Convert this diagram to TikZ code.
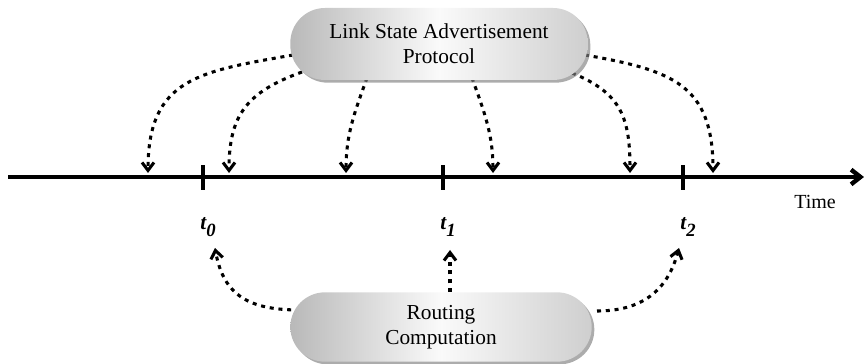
\documentclass[tikz,border=0pt]{standalone}
\usepackage{fontspec}
\setmainfont{Liberation Serif}
\usetikzlibrary{arrows.meta, positioning, calc, shadows, backgrounds}

\newcommand{\tsub}[1]{\raisebox{-0.65ex}{\fontsize{14}{14}\selectfont #1}}

\begin{document}
\begin{tikzpicture}[x=0.75pt, y=0.75pt,
  bubble/.style={rounded corners=26pt, minimum width=223pt, minimum height=54pt,
                 align=center, font=\fontsize{16}{18.5}\selectfont,
                 left color=gray!55, right color=gray!38, middle color=gray!4,
                 drop shadow={shadow xshift=2pt, shadow yshift=-2pt, opacity=0.65}},
  signal/.style={line width=2.3pt, dash pattern=on 3pt off 3.6pt,
                 -{Straight Barb[length=6pt,width=9pt]}},
  tickmark/.style={line width=2.5pt},
  tlabel/.style={font=\fontsize{16}{16}\selectfont\bfseries\itshape},
]
  \useasboundingbox (0,0) rectangle (864,364);

  \node[bubble] (lsa) at (439,320) {Link State Advertisement\\Protocol};
  \node[bubble, minimum width=226pt, minimum height=52pt] (rc) at (441,37)
    {Routing\\Computation};

  % time axis
  \coordinate (tstart) at (8,187);
  \coordinate (tend) at (864,187);
  \draw[line width=3.3pt, -{Straight Barb[length=7pt,width=11pt]}] (tstart) -- (tend);
  \node[font=\fontsize{15}{15}\selectfont] (time) at (815,162) {Time};

  \foreach \x/\n in {203/0, 443/1, 683/2} {
    \draw[tickmark] (\x,174) -- (\x,199);
    \node[tlabel] (t\n) at (\x+5,137) {t\tsub{\n}};
  }

  \foreach \x [count=\i] in {148,229,346,493,630,713}
    \coordinate (e\i) at (\x,191);
  \coordinate (b0) at (215,116);
  \coordinate (b1) at (450,114);
  \coordinate (b2) at (679,116);

  \begin{scope}[on background layer]
    \draw[signal] ($(lsa.center)+(-146,-11)$) to[out=190,in=90,looseness=1.3] (e1);
    \draw[signal] ($(lsa.center)+(-137,-28)$) to[out=200,in=90,looseness=1.2] (e2);
    \draw[signal] ($(lsa.center)+(-72,-34)$) to[out=250,in=90] (e3);
    \draw[signal] ($(lsa.center)+(33,-34)$) to[out=290,in=90] (e4);
    \draw[signal] ($(lsa.center)+(133,-29)$) to[out=-22,in=90,looseness=1.2] (e5);
    \draw[signal] ($(lsa.center)+(146,-11)$) to[out=-10,in=90,looseness=1.3] (e6);
    \draw[signal] ($(rc.center)+(-141,17)$) to[out=180,in=-80,looseness=1.2] (b0);
    \draw[signal] ($(rc.north)+(9,0)$) -- (b1);
    \draw[signal] ($(rc.center)+(156,16)$) to[out=0,in=-105,looseness=1.1] (b2);
  \end{scope}
\end{tikzpicture}
\end{document}
